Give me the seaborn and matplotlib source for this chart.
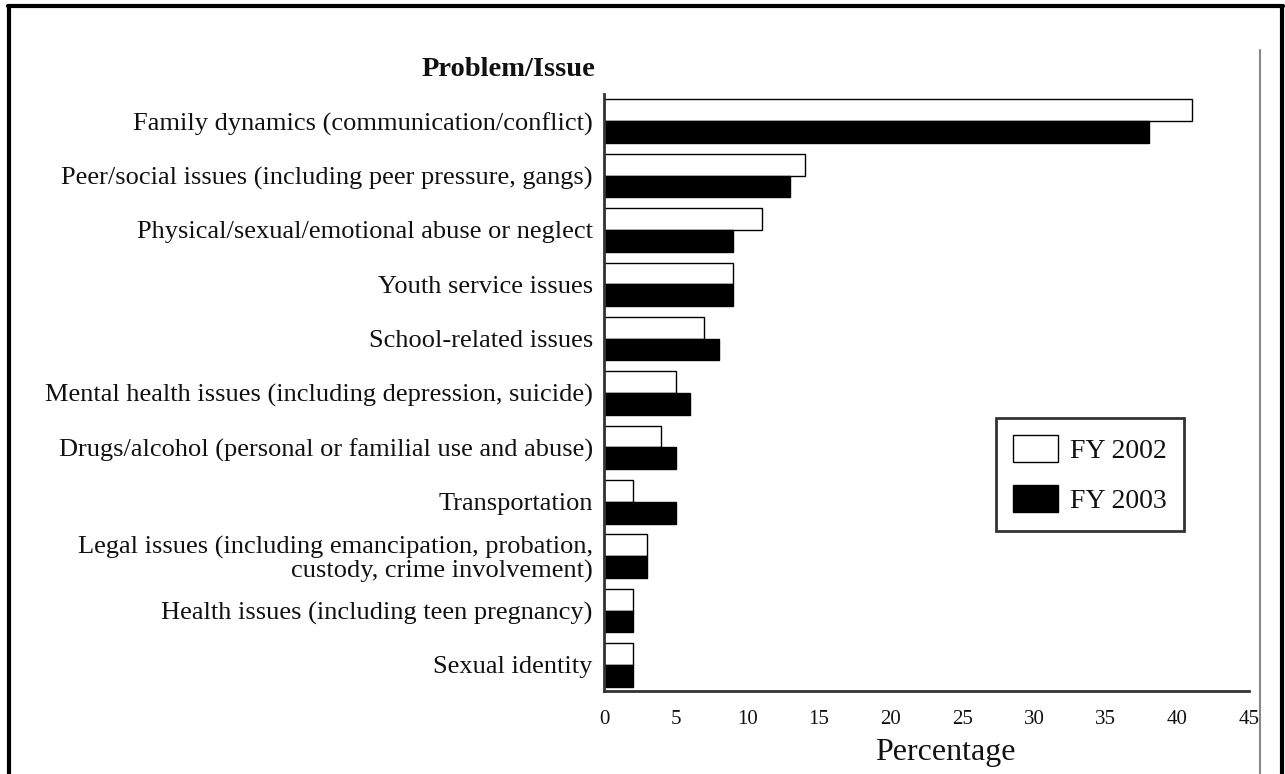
import matplotlib
matplotlib.use("Agg")
import matplotlib.pyplot as plt
from matplotlib.lines import Line2D
import seaborn as sns
import pandas as pd

categories = [
    "Family dynamics (communication/conflict)",
    "Peer/social issues (including peer pressure, gangs)",
    "Physical/sexual/emotional abuse or neglect",
    "Youth service issues",
    "School-related issues",
    "Mental health issues (including depression, suicide)",
    "Drugs/alcohol (personal or familial use and abuse)",
    "Transportation",
    "Legal issues (including emancipation, probation,\ncustody, crime involvement)",
    "Health issues (including teen pregnancy)",
    "Sexual identity",
]
fy2002 = [41, 14, 11, 9, 7, 5, 4, 2, 3, 2, 2]
fy2003 = [38, 13, 9, 9, 8, 6, 5, 5, 3, 2, 2]
series_names = ["FY 2002", "FY 2003"]
x_ticks = [0, 5, 10, 15, 20, 25, 30, 35, 40, 45]

df = pd.DataFrame({
    "Problem": categories * 2,
    "Percentage": fy2002 + fy2003,
    "Year": [series_names[0]] * len(categories) + [series_names[1]] * len(categories),
})

sns.set_theme(style="white")
plt.rcParams["font.family"] = ["Liberation Serif", "DejaVu Serif"]
plt.rcParams["text.color"] = "#111111"
plt.rcParams["axes.labelcolor"] = "#111111"
plt.rcParams["xtick.color"] = "#111111"
plt.rcParams["ytick.color"] = "#111111"

fig = plt.figure(figsize=(12.85, 7.74), dpi=100)
ax = fig.add_axes([0.470, 0.1072, 0.502, 0.7714])

sns.barplot(
    data=df, y="Problem", x="Percentage", hue="Year", orient="h",
    palette={"FY 2002": "white", "FY 2003": "black"},
    edgecolor="black", linewidth=1.0, width=0.8, ax=ax, errorbar=None,
)

ax.set_xlim(0, 45)
ax.set_ylim(10.48, -0.5)
ax.set_xticks(x_ticks)
ax.set_xticklabels([str(t) for t in x_ticks], fontsize=15)
ax.tick_params(axis="y", labelsize=19, length=0, pad=8)
ax.tick_params(axis="x", length=0, pad=14)
for lbl in ax.get_yticklabels():
    lbl.set_multialignment("right")
    lbl.set_linespacing(1.05)
ax.set_ylabel("")
ax.set_xlabel("Percentage", fontsize=23)
ax.xaxis.set_label_coords((945 - 604) / 645, -0.078)

for side in ["top", "right"]:
    ax.spines[side].set_visible(False)
for side in ["left", "bottom"]:
    ax.spines[side].set_color("#333333")
    ax.spines[side].set_linewidth(2)

ax.get_legend().remove()
handles = [
    plt.Rectangle((0, 0), 1, 1, facecolor="white", edgecolor="black", linewidth=1),
    plt.Rectangle((0, 0), 1, 1, facecolor="black", edgecolor="black", linewidth=1),
]
leg = fig.legend(
    handles, series_names, loc="upper left",
    bbox_to_anchor=(996 / 1285, 1 - 418 / 774), borderaxespad=0,
    fontsize=20, frameon=True, fancybox=False,
    handlelength=1.62, handleheight=1.15, labelspacing=0.75,
    borderpad=0.6, handletextpad=0.45,
)
leg.get_frame().set_edgecolor("black")
leg.get_frame().set_linewidth(2)

fig.text(595 / 1285, 1 - 69 / 774, "Problem/Issue", fontsize=20.5,
         fontweight="bold", ha="right", va="center")

# outer page frame
fig.add_artist(Line2D([8 / 1285, 1283 / 1285], [1 - 6 / 774, 1 - 6 / 774],
                      transform=fig.transFigure, color="black", linewidth=3))
fig.add_artist(Line2D([9 / 1285, 9 / 1285], [0, 1 - 6 / 774],
                      transform=fig.transFigure, color="black", linewidth=3))
fig.add_artist(Line2D([1282 / 1285, 1282 / 1285], [0, 1 - 6 / 774],
                      transform=fig.transFigure, color="black", linewidth=3))
fig.add_artist(Line2D([1260 / 1285, 1260 / 1285], [0, 1 - 50 / 774],
                      transform=fig.transFigure, color="#888888", linewidth=1.5))

fig.savefig("out.png", dpi=100, facecolor="white")
